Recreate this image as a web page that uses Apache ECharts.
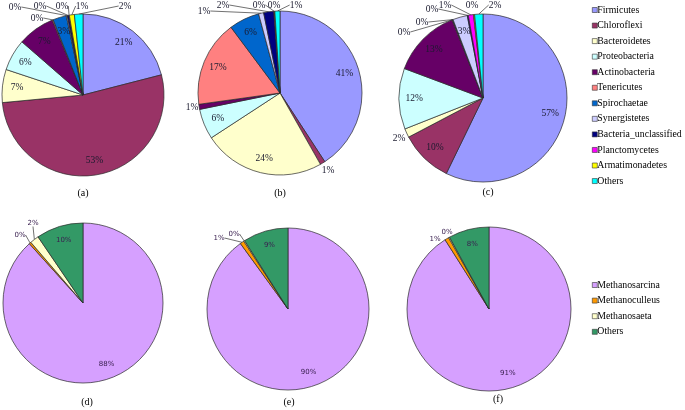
<!DOCTYPE html>
<html><head><meta charset="utf-8">
<script src="https://cdn.jsdelivr.net/npm/echarts/dist/echarts.min.js"></script>
<style>html,body{margin:0;padding:0;background:#fff}#c{width:685px;height:410px}</style>
</head><body><div id="c"></div>
<script>
// ---- data ----
const bacteriaNames = ['Firmicutes','Chloroflexi','Bacteroidetes','Proteobacteria','Actinobacteria','Tenericutes','Spirochaetae','Synergistetes','Bacteria_unclassified','Planctomycetes','Armatimonadetes','Others'];
const bacteriaA = [21.0, 52.5, 6.6, 6.3, 7.4, 0.2, 2.7, 0.2, 0.3, 0.1, 1.0, 1.7];
const bacteriaB = [40.8, 1.0, 24.0, 6.0, 1.0, 17.0, 6.0, 1.0, 2.0, 0.1, 0.1, 1.0];
const bacteriaC = [57.2, 10.1, 1.7, 11.7, 13.3, 0.1, 0.1, 2.8, 0.2, 1.0, 0.2, 1.6];
const archaeaNames = ['Methanosarcina','Methanoculleus','Methanosaeta','Others'];
const archaeaD = [88.3, 0.4, 1.8, 9.5];
const archaeaE = [90.0, 0.8, 0.2, 9.0];
const archaeaF = [91.0, 0.8, 0.2, 8.0];
const captions = ['(a)','(b)','(c)','(d)','(e)','(f)'];

// ---- styles / layout ----
const bacteriaColors = ['#9999FF','#993366','#FFFFCC','#CCFFFF','#660066','#FF8080','#0066CC','#CCCCFF','#000080','#FF00FF','#FFFF00','#00FFFF'];
const archaeaColors = ['#D6A0FF','#FF9900','#FFFFCC','#339966'];
const pies = [
  {cx:83,  cy:95,  r:81, capX:83,  capY:193, frac:0.82},
  {cx:280, cy:93,  r:82, capX:280, capY:193, frac:0.82},
  {cx:483, cy:98,  r:84, capX:488, capY:192, frac:0.82},
  {cx:83,  cy:303, r:80, capX:87,  capY:402, frac:0.82},
  {cx:288, cy:309, r:81, capX:289, capY:402, frac:0.82},
  {cx:489, cy:309, r:82, capX:498, capY:399, frac:0.82}
];
// label anchor offsets (relative to pie centre) for slices labelled outside
const outsideOffsets = [
  {5:[-46,-77], 7:[-68,-88], 8:[-43,-89], 9:[-21,-89], 10:[-1,-89], 11:[42,-89]},
  {1:[48,77], 4:[-88,14], 7:[-76,-82], 8:[-57,-88], 9:[-21,-88], 10:[-6,-88], 11:[16,-88]},
  {2:[-84,40], 5:[-79,-66], 6:[-61,-76], 8:[-51,-89], 9:[-38,-93], 10:[-11,-93], 11:[12,-93]},
  {1:[-63,-68], 2:[-50,-80]},
  {1:[-69,-71], 2:[-54,-75]},
  {1:[-54,-70], 2:[-42,-77]}
];

const allValues = [bacteriaA, bacteriaB, bacteriaC, archaeaD, archaeaE, archaeaF];

function makeLayout(si) {
  const L = pies[si], vals = allValues[si];
  const total = vals.reduce((a,b)=>a+b,0);
  return function (params) {
    const i = params.dataIndex;
    let cum = 0; for (let k = 0; k < i; k++) cum += vals[k];
    const mid = (cum + vals[i]/2) / total * Math.PI * 2;
    const off = outsideOffsets[si][i];
    if (off) {
      const sx = L.cx + L.r*Math.sin(mid), sy = L.cy - L.r*Math.cos(mid);
      const lx = L.cx + off[0], ly = L.cy + off[1];
      const w = params.labelRect.width, h = params.labelRect.height;
      let ex, ey;
      if (sx > lx + w/2) { ex = lx + w/2; ey = ly; }
      else if (sx < lx - w/2) { ex = lx - w/2; ey = ly; }
      else { ex = lx; ey = sy > ly ? ly + h/2 : ly - h/2; }
      const d = Math.hypot(sx-ex, sy-ey);
      const pts = d < 8 ? [[ex,ey],[ex,ey]] : [[sx,sy],[ex,ey]];
      return {x: lx, y: ly, align:'center', verticalAlign:'middle', labelLinePoints: pts};
    }
    return {x: L.cx + L.frac*L.r*Math.sin(mid), y: L.cy - L.frac*L.r*Math.cos(mid), align:'center', verticalAlign:'middle'};
  };
}

function makeSeries(si, names, colors, serif) {
  const L = pies[si], vals = allValues[si];
  return {
    type:'pie', center:[L.cx, L.cy], radius:[0, L.r], startAngle:90, clockwise:true,
    silent:true, animation:false, avoidLabelOverlap:false,
    itemStyle:{borderColor:'#2a2a2a', borderWidth:0.7},
    label:{show:true, position:'inside', overflow:'none', formatter: p => Math.round(p.value) + '%',
      fontFamily: serif ? 'Liberation Serif' : 'DejaVu Sans', fontSize: serif ? 9.5 : 7,
      color: serif ? '#1a1a2e' : '#3a2050', textBorderWidth:0},
    labelLine:{show:true, length:4, length2:4, lineStyle:{color:'#333', width:0.7}},
    labelLayout: makeLayout(si),
    data: vals.map((v,i)=>{
      const out = outsideOffsets[si][i] != null;
      return {name:names[i], value:v, itemStyle:{color:colors[i]},
        label:{position: out ? 'outside' : 'inside'}, labelLine:{show: out}};
    })
  };
}

const chart = echarts.init(document.getElementById('c'), null, {renderer:'canvas'});
const series = [];
for (let s = 0; s < 3; s++) series.push(makeSeries(s, bacteriaNames, bacteriaColors, true));
for (let s = 3; s < 6; s++) series.push(makeSeries(s, archaeaNames, archaeaColors, false));

const legendText = {fontFamily:'Liberation Serif', fontSize:9.8, color:'#000', lineHeight:12, padding:[0,0,0,-5], overflow:'none'};
chart.setOption({
  animation:false,
  backgroundColor:'#fff',
  legend:[
    {orient:'vertical', left:592, top:4, itemWidth:5, itemHeight:5, itemGap:3.55, icon:'rect', selectedMode:false,
     padding:0, textStyle:legendText,
     data: bacteriaNames.map((n,i)=>({name:n, itemStyle:{color:bacteriaColors[i], borderColor:'#333', borderWidth:0.6}}))},
    {orient:'vertical', left:592, top:279, itemWidth:5, itemHeight:5, itemGap:3.6, icon:'rect', selectedMode:false,
     padding:0, textStyle:legendText,
     data: archaeaNames.map((n,i)=>({name:n, itemStyle:{color:archaeaColors[i], borderColor:'#333', borderWidth:0.6}}))}
  ],
  graphic: captions.map((t,i)=>({type:'text', x:pies[i].capX, y:pies[i].capY, silent:true,
    style:{text:t, align:'center', verticalAlign:'middle', font:'10px "Liberation Serif"', fill:'#000'}})),
  series: series
});
</script>
</body></html>
